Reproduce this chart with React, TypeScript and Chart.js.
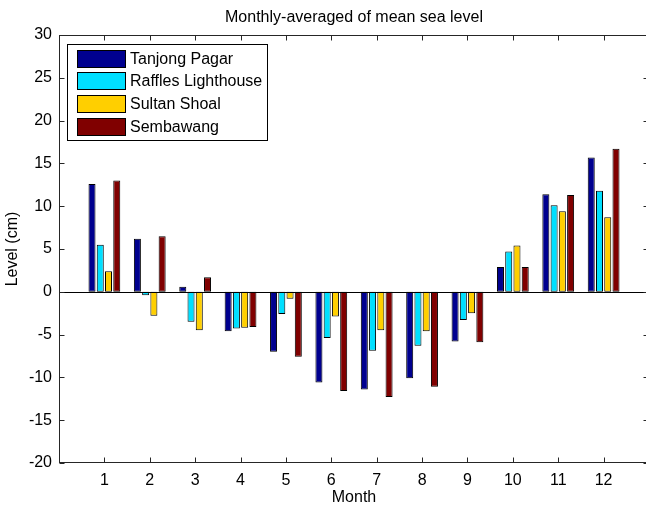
import React, { useEffect, useRef } from "react";
import { Chart, registerables } from "chart.js";

Chart.register(...registerables);

const months = [1, 2, 3, 4, 5, 6, 7, 8, 9, 10, 11, 12];
const seriesNames = ["Tanjong Pagar", "Raffles Lighthouse", "Sultan Shoal", "Sembawang"];
const tanjongPagar = [12.6, 6.2, 0.6, -4.6, -7.0, -10.6, -11.4, -10.1, -5.8, 2.9, 11.4, 15.7];
const rafflesLighthouse = [5.5, -0.4, -3.5, -4.3, -2.6, -5.4, -6.9, -6.3, -3.3, 4.7, 10.1, 11.8];
const sultanShoal = [2.4, -2.8, -4.5, -4.2, -0.8, -2.9, -4.5, -4.6, -2.5, 5.4, 9.4, 8.7];
const sembawang = [13.0, 6.5, 1.7, -4.1, -7.6, -11.6, -12.3, -11.1, -5.9, 2.9, 11.3, 16.7];
const yTicks = [-20, -15, -10, -5, 0, 5, 10, 15, 20, 25, 30];
const seriesColors = ["#00008F", "#00DFFF", "#FFCF00", "#800000"];

const FONT = "'Liberation Sans', Arial, Helvetica, sans-serif";

const matlabAxes = {
  id: "matlabAxes",
  afterDatasetsDraw(chart: any) {
    const { ctx, chartArea } = chart;
    const xs = chart.scales.x;
    const ys = chart.scales.y;
    const L = Math.round(chartArea.left) + 0.5;
    const R = Math.round(chartArea.right) - 0.5;
    const T = Math.round(chartArea.top) + 0.5;
    const B = Math.round(chartArea.bottom) - 0.5;
    ctx.save();
    ctx.strokeStyle = "#000";
    ctx.lineWidth = 1;
    const z = Math.round(ys.getPixelForValue(0)) + 0.5;
    ctx.beginPath();
    ctx.moveTo(L, z);
    ctx.lineTo(R, z);
    ctx.stroke();
    ctx.strokeStyle = "#262626";
    ctx.strokeRect(L, T, R - L, B - T);
    const tl = 5;
    ctx.beginPath();
    months.forEach((m) => {
      const px = Math.round(xs.getPixelForValue(m)) + 0.5;
      ctx.moveTo(px, B);
      ctx.lineTo(px, B - tl);
      ctx.moveTo(px, T);
      ctx.lineTo(px, T + tl);
    });
    yTicks.forEach((v) => {
      const py = Math.round(ys.getPixelForValue(v)) + 0.5;
      ctx.moveTo(L, py);
      ctx.lineTo(L + tl, py);
      ctx.moveTo(R, py);
      ctx.lineTo(R - tl, py);
    });
    ctx.stroke();
    ctx.restore();
  },
  afterDraw(chart: any) {
    const { ctx } = chart;
    ctx.save();
    const bx = 67.5, by = 44.5, bw = 200, bh = 96;
    ctx.fillStyle = "#fff";
    ctx.fillRect(bx, by, bw, bh);
    ctx.strokeStyle = "#000";
    ctx.lineWidth = 1;
    ctx.strokeRect(bx, by, bw, bh);
    ctx.font = "16px " + FONT;
    ctx.textBaseline = "middle";
    ctx.textAlign = "left";
    chart.data.datasets.forEach((ds: any, i: number) => {
      const sy = 49.5 + i * 22.7;
      ctx.fillStyle = ds.backgroundColor;
      ctx.fillRect(77.5, Math.round(sy) + 0.5, 48, 17);
      ctx.strokeStyle = "#000";
      ctx.strokeRect(77.5, Math.round(sy) + 0.5, 48, 17);
      ctx.fillStyle = "#000";
      ctx.fillText(ds.label, 130, Math.round(sy) + 9.5);
    });
    ctx.restore();
  },
};

export default function App() {
  const ref = useRef<HTMLCanvasElement | null>(null);
  useEffect(() => {
    if (!ref.current) return;
    const seriesValues = [tanjongPagar, rafflesLighthouse, sultanShoal, sembawang];
    const chart = new Chart(ref.current, {
      type: "bar",
      data: {
        datasets: seriesValues.map((vals, i) => ({
          label: seriesNames[i],
          data: months.map((m, j) => ({ x: m, y: vals[j] })),
          backgroundColor: seriesColors[i],
          borderColor: "#000",
          borderWidth: 1,
          borderSkipped: false,
          categoryPercentage: 4 / 5.5,
          barPercentage: 0.85,
        })),
      },
      options: {
        responsive: false,
        animation: false,
        devicePixelRatio: 1,
        layout: { padding: { left: 0, right: 3, top: 0, bottom: 0 } },
        plugins: {
          legend: { display: false },
          tooltip: { enabled: false },
          title: {
            display: true,
            text: "Monthly-averaged of mean sea level",
            color: "#000",
            fullSize: false,
            font: { family: FONT, size: 16, weight: "normal" },
            padding: { top: 7.9, bottom: 7.9 },
          },
        },
        scales: {
          x: {
            type: "linear",
            min: 0,
            max: 13,
            offset: false,
            grid: { display: false, drawTicks: false, offset: false },
            border: { display: false },
            afterBuildTicks: (scale: any) => {
              scale.ticks = months.map((m) => ({ value: m }));
            },
            afterFit: (scale: any) => {
              scale.height = 44;
            },
            ticks: {
              color: "#000",
              font: { family: FONT, size: 16 },
              padding: 8,
              maxRotation: 0,
              autoSkip: false,
              callback: (v: any) => String(v),
            },
            title: {
              display: true,
              text: "Month",
              color: "#000",
              font: { family: FONT, size: 16 },
              padding: { top: 0, bottom: 0 },
            },
          },
          y: {
            type: "linear",
            min: -20,
            max: 30,
            grid: { display: false, drawTicks: false },
            border: { display: false },
            afterBuildTicks: (scale: any) => {
              scale.ticks = yTicks.map((v) => ({ value: v }));
            },
            afterFit: (scale: any) => {
              scale.width = 59;
            },
            ticks: {
              color: "#000",
              font: { family: FONT, size: 16 },
              padding: 7,
              callback: (v: any) => String(v),
            },
            title: {
              display: true,
              text: "Level (cm)",
              color: "#000",
              font: { family: FONT, size: 16 },
              padding: { top: 3, bottom: 0 },
            },
          },
        },
      },
      plugins: [matlabAxes],
    });
    return () => chart.destroy();
  }, []);
  return (
    <div
      style={{
        position: "fixed",
        left: 0,
        top: 0,
        width: 646,
        height: 507,
        overflow: "hidden",
        background: "#fff",
      }}
    >
      <canvas ref={ref} width={652} height={507} style={{ display: "block" }} />
    </div>
  );
}
